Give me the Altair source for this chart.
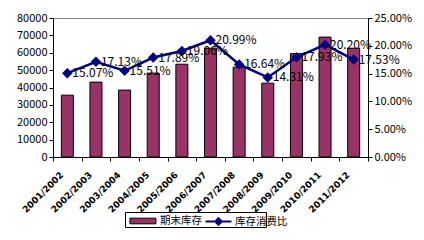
import altair as alt
import pandas as pd

years = ["2001/2002", "2002/2003", "2003/2004", "2004/2005", "2005/2006", "2006/2007",
         "2007/2008", "2008/2009", "2009/2010", "2010/2011", "2011/2012"]
stock = [35600, 43100, 38500, 48300, 53400, 62600, 51700, 42500, 59500, 69000, 62600]
ratio = [15.07, 17.13, 15.51, 17.89, 19.06, 20.99, 16.64, 14.31, 17.93, 20.20, 17.53]

df = pd.DataFrame({"year": years, "stock": stock, "ratio": [r / 100 for r in ratio],
                   "label": [f"{r:.2f}%" for r in ratio],
                   "s1": ["期末库存"] * len(years), "s2": ["库存消费比"] * len(years)})

FONT = "Noto Sans CJK SC"
PAD = "\u2800" * 8

x = alt.X("year:N", sort=years, title=None,
          scale=alt.Scale(paddingInner=0, paddingOuter=0),
          axis=alt.Axis(labelAngle=-45, labelAlign="right", labelBaseline="middle",
                        labelFontSize=9, labelFontWeight="bold", labelFont="DejaVu Sans",
                        tickBand="extent", tickSize=4, domainColor="black",
                        tickColor="black", labelColor="black", labelPadding=12,
                        labelOffset=-6))

bars = alt.Chart(df).mark_bar(size=12, stroke="black", strokeWidth=1).encode(
    x=x,
    y=alt.Y("stock:Q", title=None, scale=alt.Scale(domain=[0, 80000]),
            axis=alt.Axis(values=list(range(0, 80001, 10000)), grid=False, labelFontSize=11,
                          labelFont=FONT, domainColor="black", tickColor="black",
                          labelColor="black", tickSize=4, format="d")),
    fill=alt.Fill("s1:N", title=None,
                  scale=alt.Scale(domain=["期末库存"], range=["#993366"]),
                  legend=alt.Legend(orient="none", legendX=72, legendY=194,
                                    symbolType="M-0.5,-0.35H2.7V0.35H-0.5Z",
                                    symbolSize=263, symbolStrokeColor="black",
                                    symbolStrokeWidth=1, labelFontSize=10.5, labelFont=FONT,
                                    labelColor="black", labelOffset=17, padding=0,
                                    labelLimit=400,
                                    strokeColor="black", fillColor="white",
                                    labelExpr=f"datum.label + '{PAD}'")),
)

yr = alt.Y("ratio:Q", title=None, scale=alt.Scale(domain=[0, 0.25]),
           axis=alt.Axis(orient="right", format=".2%", values=[0, 0.05, 0.1, 0.15, 0.2, 0.25],
                         grid=False, labelFontSize=11, labelFont=FONT, domainColor="black",
                         tickColor="black", labelColor="black", tickSize=4))

line = alt.Chart(df).mark_line(color="#000080", strokeWidth=2.5).encode(
    x=x, y=yr,
    stroke=alt.Stroke("s2:N", title=None,
                      scale=alt.Scale(domain=["库存消费比"], range=["#000080"]),
                      legend=alt.Legend(orient="none", legendX=156, legendY=194,
                                        symbolType="M-1.6,0H1.6M0,-0.4L0.4,0L0,0.4L-0.4,0Z",
                                        symbolSize=263, symbolFillColor="#000080",
                                        symbolStrokeWidth=2, labelFontSize=10.5,
                                        labelFont=FONT, labelColor="black", labelOffset=7,
                                        padding=0)),
)
pts = alt.Chart(df).mark_point(shape="diamond", filled=True, size=110, color="#000080",
                               opacity=1).encode(x=x, y=yr)
txt = alt.Chart(df).mark_text(align="left", baseline="middle", dx=5, fontSize=12,
                              font=FONT, color="black").encode(x=x, y=yr, text="label:N")

right = alt.layer(line, pts, txt)

chart = alt.layer(bars, right).resolve_scale(y="independent", fill="independent",
                                             stroke="independent").properties(
    width=315, height=139,
    autosize=alt.AutoSizeParams(type="none"),
    padding={"left": 53, "top": 18, "right": 56, "bottom": 83},
    background="white",
).configure_view(stroke="#808080", strokeWidth=1)

chart.save("out.html", embed_options={"renderer": "svg", "actions": False})
